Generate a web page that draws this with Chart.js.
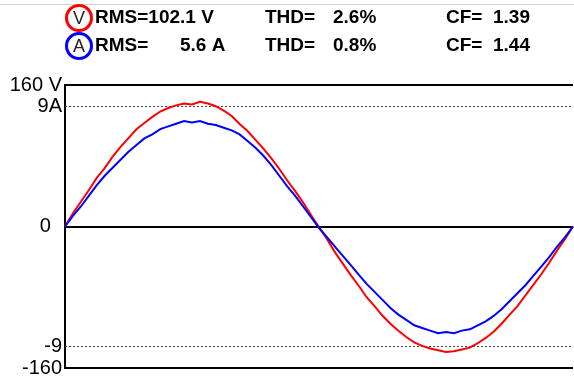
<!DOCTYPE html>
<html>
<head>
<meta charset="utf-8">
<script src="https://cdn.jsdelivr.net/npm/chart.js@4"></script>
<style>
  html, body { margin: 0; padding: 0; background: #fff; }
  canvas { position: absolute; left: 0; top: 0; }
</style>
</head>
<body>
<canvas id="scope" width="574" height="379"></canvas>
<script>
// one mains cycle, 64 samples + closing point
const voltage = [
  0, 15, 28, 41, 55, 66, 79, 90, 100, 110, 117, 124, 130, 134, 137, 139,
  138, 141, 139, 136, 131, 125, 116, 108, 98, 88, 77, 65, 52, 40, 27, 13,
  -1, -14, -29, -42, -55, -67, -80, -90, -101, -110, -118, -125, -131, -135, -138, -140,
  -142, -141, -139, -137, -132, -126, -119, -110, -100, -90, -78, -66, -54, -41, -27, -14,
  0
];
const current = [
  0.0, 0.8, 1.5, 2.3, 3.1, 3.8, 4.4, 5.0, 5.6, 6.1, 6.6, 6.9, 7.3, 7.5, 7.7, 7.9,
  7.8, 7.9, 7.7, 7.6, 7.4, 7.2, 6.9, 6.4, 5.9, 5.3, 4.6, 3.8, 3.0, 2.3, 1.5, 0.7,
  -0.1, -0.8, -1.5, -2.2, -2.9, -3.6, -4.3, -4.9, -5.5, -6.1, -6.6, -7.0, -7.4, -7.6, -7.8, -8.0,
  -7.9, -8.0, -7.8, -7.7, -7.4, -7.1, -6.7, -6.2, -5.6, -5.0, -4.4, -3.7, -3.0, -2.3, -1.5, -0.8,
  0.0
];
const sampleNo = voltage.map((_, i) => i);

const voltRange = 160;
const voltTicks = [-160, 0, 160];
const voltTickLabels = ['-160', '0  ', '160 V'];
const ampRange = 10.6;
const ampTicks = [-9, 9];
const ampTickLabels = ['-9', '9A'];

// readout rows: [badge letter, colour, RMS, THD, CF]
const channels = ['V', 'A'];
const channelColors = ['#ff0000', '#0000ff'];
const rmsText = ['RMS=102.1 V', 'RMS=      5.6 A'];
const thdText = ['2.6%', '0.8%'];
const cfText = ['1.39', '1.44'];

const fontFamily = '"Liberation Sans", Arial, sans-serif';
const tickFont = { family: fontFamily, size: 20 };

// measurement header above the trace
const readouts = {
  id: 'readouts',
  afterDraw(chart) {
    const ctx = chart.ctx;
    ctx.save();
    ctx.fillStyle = '#d4d4d4';
    ctx.fillRect(0, 4, chart.width, 1);
    ctx.textBaseline = 'middle';
    channels.forEach((ch, i) => {
      const cy = 18 + i * 28;
      ctx.beginPath();
      ctx.arc(79, cy, 12.5, 0, Math.PI * 2);
      ctx.strokeStyle = channelColors[i];
      ctx.lineWidth = 3;
      ctx.stroke();
      ctx.fillStyle = '#222';
      ctx.font = '18px ' + fontFamily;
      ctx.textAlign = 'center';
      ctx.fillText(ch, 79, cy + 1);
      ctx.fillStyle = '#000';
      ctx.font = 'bold 19px ' + fontFamily;
      ctx.textAlign = 'left';
      ctx.fillText(rmsText[i], 95, cy);
      ctx.fillText('THD=', 265, cy);
      ctx.fillText(thdText[i], 333, cy);
      ctx.fillText('CF=', 446, cy);
      ctx.fillText(cfText[i], 493, cy);
    });
    ctx.restore();
  }
};

// the amp scale has no width of its own; widen its box after layout so
// its labels are not clipped away
const ampLabelRoom = {
  id: 'ampLabelRoom',
  afterLayout(chart) {
    chart.scales.amp.left = 0;
  }
};

// top and bottom edges of the screen at +/- full scale, drawn last
const frameLines = {
  id: 'frameLines',
  afterDraw(chart) {
    const { ctx, chartArea } = chart;
    const y = chart.scales.volt;
    ctx.save();
    ctx.setLineDash([]);
    ctx.strokeStyle = '#000';
    ctx.lineWidth = 2;
    [voltRange, -voltRange].forEach(v => {
      const py = Math.round(y.getPixelForValue(v));
      ctx.beginPath();
      ctx.moveTo(chartArea.left - 1, py);
      ctx.lineTo(chartArea.right, py);
      ctx.stroke();
    });
    ctx.restore();
  }
};

function noEdgePadding(s) {
  s.paddingTop = 0;
  s.paddingBottom = 0;
}

new Chart(document.getElementById('scope'), {
  type: 'line',
  data: {
    labels: sampleNo,
    datasets: [
      { label: 'A', data: current, yAxisID: 'amp', borderColor: '#0000ff', order: 0 },
      { label: 'V', data: voltage, yAxisID: 'volt', borderColor: '#ff0000', order: 1 }
    ]
  },
  options: {
    responsive: false,
    animation: false,
    events: [],
    layout: { padding: { top: 85, right: 1, bottom: 11, left: 0 } },
    plugins: { legend: { display: false } },
    elements: {
      point: { radius: 0 },
      line: { borderWidth: 2, tension: 0 }
    },
    scales: {
      x: { type: 'category', display: false, offset: false },
      volt: {
        position: 'left',
        weight: 1,
        min: -voltRange,
        max: voltRange,
        afterBuildTicks: s => { s.ticks = voltTicks.map(v => ({ value: v })); },
        afterFit: s => { s.width = 65; noEdgePadding(s); },
        ticks: {
          autoSkip: false,
          padding: 3,
          color: '#000',
          font: tickFont,
          callback: v => voltTickLabels[voltTicks.indexOf(v)]
        },
        grid: { color: '#000', lineWidth: 2, drawTicks: false },
        border: { color: '#000', width: 2 }
      },
      amp: {
        position: 'left',
        weight: 0,
        min: -ampRange,
        max: ampRange,
        afterBuildTicks: s => { s.ticks = ampTicks.map(v => ({ value: v })); },
        afterFit: s => { s.width = 0; noEdgePadding(s); },
        ticks: {
          autoSkip: false,
          padding: 3,
          color: '#000',
          font: tickFont,
          callback: v => ampTickLabels[ampTicks.indexOf(v)]
        },
        grid: { color: '#444', lineWidth: 1, drawTicks: false },
        border: { display: false, dash: [2, 2] }
      }
    }
  },
  plugins: [ampLabelRoom, frameLines, readouts]
});
</script>
</body>
</html>
